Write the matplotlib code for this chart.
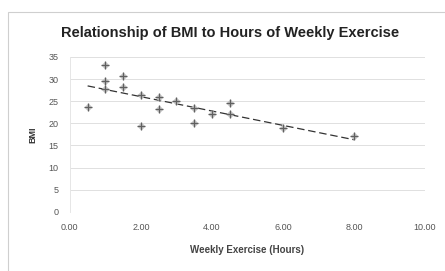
import matplotlib
matplotlib.use("Agg")
import matplotlib.pyplot as plt
import numpy as np
from matplotlib.patches import Rectangle

plt.rcParams["font.family"] = ["Liberation Sans", "DejaVu Sans"]

hours = [0.5, 1.0, 1.0, 1.0, 1.5, 1.5, 2.0, 2.0, 2.5, 2.5, 3.0,
         3.5, 3.5, 4.0, 4.5, 4.5, 6.0, 8.0]
bmi = [23.7, 33.2, 29.6, 27.8, 30.7, 28.2, 26.4, 19.4, 26.0, 23.2, 25.0,
       23.4, 20.1, 22.1, 24.6, 22.1, 19.0, 17.2]
xticks = [0, 2, 4, 6, 8, 10]
yticks = [0, 5, 10, 15, 20, 25, 30, 35]

fig = plt.figure(figsize=(4.45, 2.71), dpi=100)
fig.patches.append(Rectangle((8 / 445, -0.1), 1.2, 1 - 12 / 271 + 0.1,
                             transform=fig.transFigure, fill=False,
                             edgecolor="#cfcfcf", lw=0.8))
ax = fig.add_axes([0.157, 0.218, 0.798, 0.572])

# linear trendline
slope, icpt = np.polyfit(hours, bmi, 1)
tx = np.array([min(hours), max(hours)])
ax.plot(tx, slope * tx + icpt, color="#333333", lw=0.9, ls=(0, (6, 3)), zorder=2)

ax.scatter(hours, bmi, marker="D", s=10, color="#c4c4c4", zorder=3)
ax.scatter(hours, bmi, marker="+", s=26, color="#606060", lw=0.9, zorder=4)

ax.set_xlim(0, 10)
ax.set_ylim(0, 35)
ax.set_xticks(xticks)
ax.set_xticklabels([f"{v:.2f}" for v in xticks])
ax.set_yticks(yticks)
ax.tick_params(labelsize=6.5, colors="#555555", length=0, pad=8)
ax.grid(axis="y", color="#e0e0e0", lw=0.7)
for s in ["top", "right", "bottom"]:
    ax.spines[s].set_visible(False)
ax.spines["left"].set_color("#e6e6e6")
ax.spines["left"].set_linewidth(0.7)
ax.set_axisbelow(True)

ax.set_ylabel("BMI", fontsize=6.5, fontweight="bold", color="#333333", labelpad=8)
ax.set_xlabel("Weekly Exercise (Hours)", fontsize=7, fontweight="bold",
              color="#444444", labelpad=9)
fig.text(0.517, 0.88, "Relationship of BMI to Hours of Weekly Exercise",
         ha="center", va="center", fontsize=10.5, fontweight="bold", color="#222222")

fig.savefig("out.png", dpi=100)
